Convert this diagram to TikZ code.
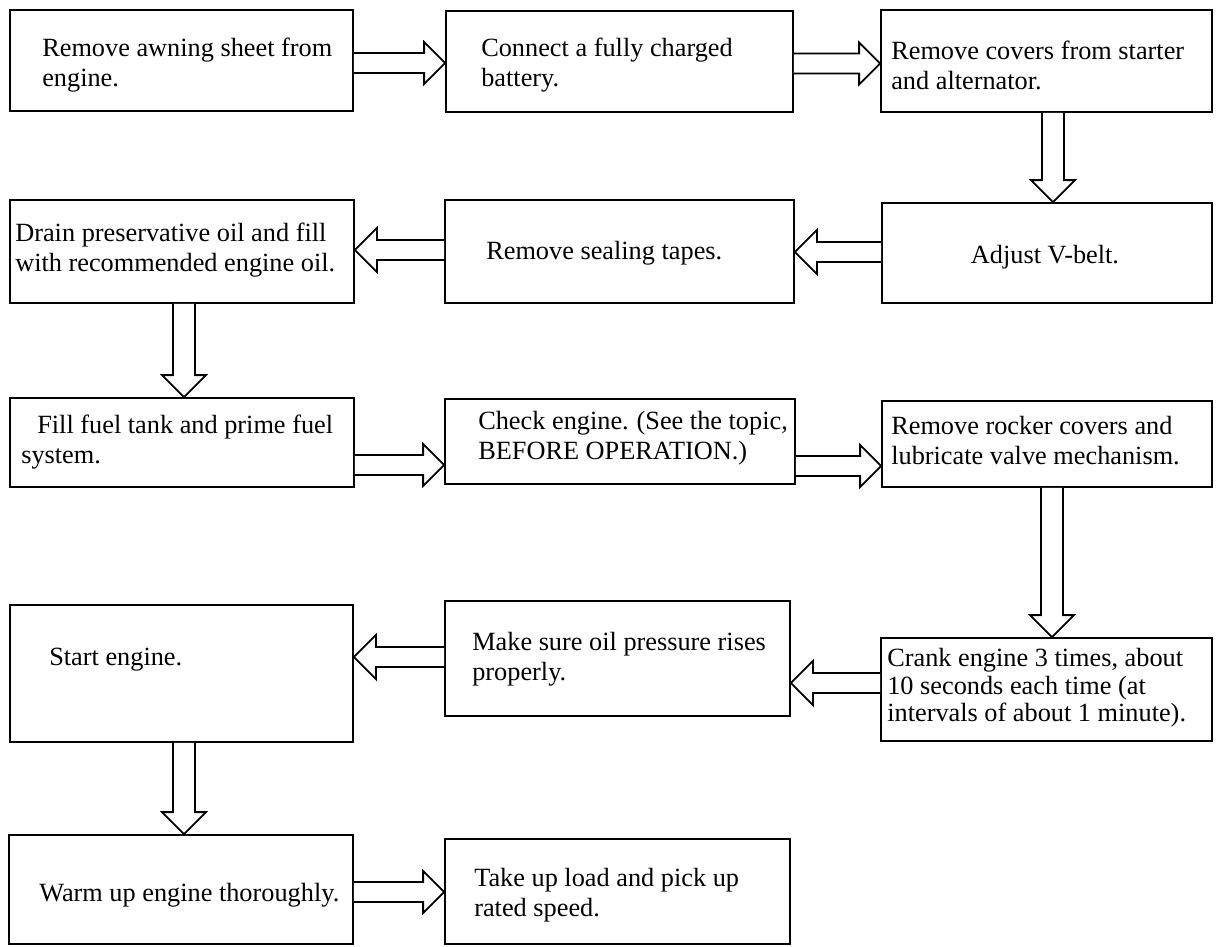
\documentclass[tikz,border=0pt]{standalone}
\usepackage{fontspec}
\setmainfont{Liberation Serif}
\usetikzlibrary{calc}
\tikzset{
  box/.style={draw, line width=1.8pt, rectangle, inner sep=0pt},
  txt/.style={align=left, inner sep=0pt, anchor=west, yshift=-3pt, font=\fontsize{26.3}{30}\selectfont},
  blk/.style={draw, line width=1.8pt, fill=white, line join=miter},
}
% box by corners (pixel coords, y downward)
\newcommand\bxnode[5]{%
  \node[box, minimum width={(#4-#2)*1pt}, minimum height={(#5-#3)*1pt}] (#1) at ({(#2+#4)/2},{(#3+#5)/2}) {};}
% right-pointing block arrow from node #1 to node #2 at height #3
\newcommand\rarr[3]{%
  \draw[blk] let \p1=(#1.east), \p2=(#2.west), \p3=(0,#3) in
    (\x1,{\y3+10pt}) -- ({\x2-21pt},{\y3+10pt}) -- ({\x2-21pt},{\y3+21pt}) -- (\x2,\y3)
    -- ({\x2-21pt},{\y3-21pt}) -- ({\x2-21pt},{\y3-10pt}) -- (\x1,{\y3-10pt});}
% left-pointing block arrow from node #1 to node #2 at height #3
\newcommand\larr[3]{%
  \draw[blk] let \p1=(#1.west), \p2=(#2.east), \p3=(0,#3) in
    (\x1,{\y3+10pt}) -- ({\x2+22pt},{\y3+10pt}) -- ({\x2+22pt},{\y3+22pt}) -- (\x2,\y3)
    -- ({\x2+22pt},{\y3-22pt}) -- ({\x2+22pt},{\y3-10pt}) -- (\x1,{\y3-10pt});}
% down-pointing block arrow from node #1 to node #2 at x #3
\newcommand\darr[3]{%
  \draw[blk] let \p1=(#1.south), \p2=(#2.north), \p3=(#3,0) in
    ({\x3-11pt},\y1) -- ({\x3-11pt},{\y2+22pt}) -- ({\x3-22pt},{\y2+22pt}) -- (\x3,\y2)
    -- ({\x3+22pt},{\y2+22pt}) -- ({\x3+11pt},{\y2+22pt}) -- ({\x3+11pt},\y1);}
\begin{document}
\begin{tikzpicture}[x=1pt,y=-1pt]
\useasboundingbox (0,0) rectangle (1216,946);
\fill[white] (0,0) rectangle (1216,946);

% boxes
\bxnode{b11}{10}{10}{353}{111}
\bxnode{b12}{446}{11}{793}{112}
\bxnode{b13}{881}{10}{1212}{112}
\bxnode{b21}{10}{200}{354}{303}
\bxnode{b22}{445}{200}{794}{303}
\bxnode{b23}{882}{203}{1212}{303}
\bxnode{b31}{10}{398}{354}{487}
\bxnode{b32}{445}{399}{795}{484}
\bxnode{b33}{882}{401}{1212}{487}
\bxnode{b41}{10}{605}{353}{742}
\bxnode{b42}{445}{601}{790}{716}
\bxnode{b43}{881}{638}{1212}{741}
\bxnode{b51}{9}{835}{353}{944}
\bxnode{b52}{445}{839}{790}{944}

% texts
\node[txt] (t11) at ([shift={(33,1.5)}]b11.west) {Remove awning sheet from\\engine.};
\node[txt] (t12) at ([shift={(36,1)}]b12.west) {Connect a fully charged\\battery.};
\node[txt] (t13) at ([shift={(11,1)}]b13.west) {Remove covers from starter\\and alternator.};
\node[txt] (t21) at ([shift={(6,-4)}]b21.west) {Drain preservative oil and fill\\with recommended engine oil.};
\node[txt] (t22) at ([shift={(42,-1.5)}]b22.west) {Remove sealing tapes.};
\node[txt, anchor=center] (t23) at ([shift={(-2,1)}]b23.center) {Adjust V-belt.};
\node[txt] (t31) at ([shift={(12,-3.5)}]b31.west) {\hspace*{16pt}Fill fuel tank and prime fuel\\system.};
\node[txt] (t32) at ([shift={(34,-6)}]b32.west) {Check engine.\hspace{0.3em}(See the topic,\\BEFORE OPERATION.)};
\node[txt] (t33) at ([shift={(10,-6)}]b33.west) {Remove rocker covers and\\lubricate valve mechanism.};
\node[txt] (t41) at ([shift={(40,-16.5)}]b41.west) {Start engine.};
\node[txt] (t42) at ([shift={(28,-2.5)}]b42.west) {Make sure oil pressure rises\\properly.};
\node[txt, font=\fontsize{26.3}{27.5}\selectfont] (t43) at ([shift={(7,-4.5)}]b43.west) {Crank engine 3 times, about\\10 seconds each time (at\\intervals of about 1 minute).};
\node[txt] (t51) at ([shift={(31,2.5)}]b51.west) {Warm up engine thoroughly.};
\node[txt] (t52) at ([shift={(30,1)}]b52.west) {Take up load and pick up\\rated speed.};

% arrows
\rarr{b11}{b12}{63}
\rarr{b12}{b13}{63.5}
\darr{b13}{b23}{1053}
\larr{b23}{b22}{252}
\larr{b22}{b21}{250}
\darr{b21}{b31}{184}
\rarr{b31}{b32}{465}
\rarr{b32}{b33}{466}
\darr{b33}{b43}{1052}
\larr{b43}{b42}{683}
\larr{b42}{b41}{657}
\darr{b41}{b51}{184}
\rarr{b51}{b52}{892}
\end{tikzpicture}
\end{document}
